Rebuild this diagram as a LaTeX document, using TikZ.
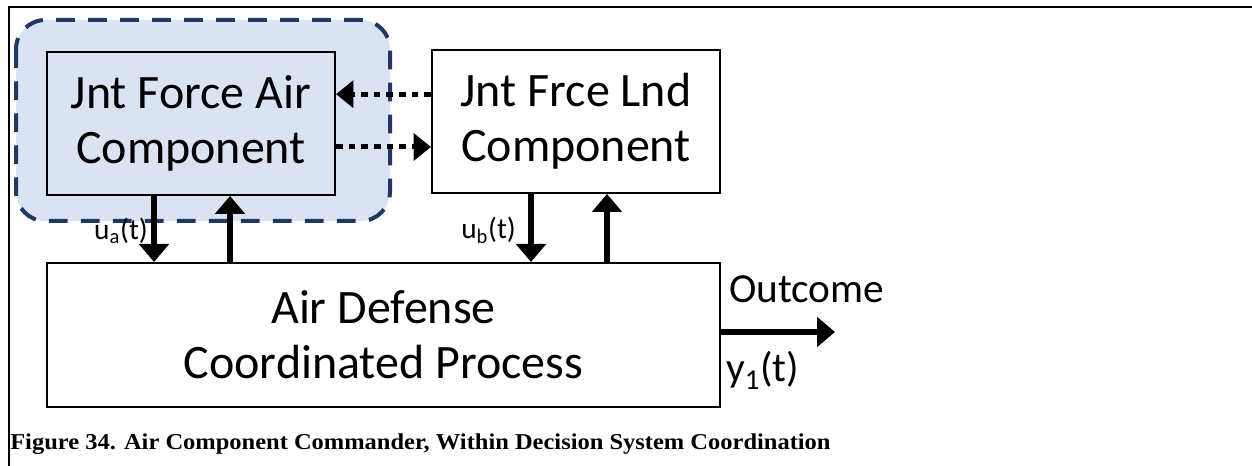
\documentclass[tikz,border=0pt]{standalone}
\usepackage{fontspec}
\setmainfont{Carlito}
\newfontfamily\capfont{Liberation Serif}
\usetikzlibrary{arrows.meta}
\definecolor{grpfill}{HTML}{DAE3F1}
\definecolor{grpline}{HTML}{1F3864}
\begin{document}
\begin{tikzpicture}[x=0.75pt,y=-0.75pt,
  box/.style={draw=black,line width=1.5pt,minimum width=216pt,minimum height=107.25pt,
    align=center,font=\fontsize{36}{41.4}\selectfont,inner sep=0pt},
  arr/.style={line width=4.5pt,-{Triangle[width=22pt,length=13.5pt]}},
  dotarr/.style={line width=3.75pt,dash pattern=on 5pt off 4.5pt,-{Triangle[width=20pt,length=13pt]}},
  lbl/.style={font=\fontsize{22}{24}\selectfont,inner sep=0pt},
  outlbl/.style={font=\fontsize{31}{34}\selectfont,inner sep=0pt}]
\useasboundingbox (0,0) rectangle (1252,466);
% frame
\draw[line width=1.5pt] (8.5,466) -- (8.5,7.5) -- (1252,7.5);
% group
\draw[grpline,fill=grpfill,line width=3pt,dash pattern=on 14pt off 10pt,rounded corners=22pt]
  (16,20) rectangle (390,221);
% boxes
\node[box] (air) at (191,123.5) {Jnt Force Air\\Component};
\node[box,fill=white] (land) at (576,121.5) {Jnt Frce Lnd\\Component};
\node[box,minimum width=504.75pt,minimum height=108pt,fill=white] (proc) at (383.5,335) {Air Defense\\Coordinated Process};
% vertical arrows
\coordinate (ad) at ([xshift=-27.75pt]air.south);
\coordinate (au) at ([xshift=29.25pt]air.south);
\coordinate (ld) at ([xshift=-33.75pt]land.south);
\coordinate (lu) at ([xshift=23.25pt]land.south);
\draw[arr] (ad) -- (ad |- proc.north);
\draw[arr] (au |- proc.north) -- (au);
\draw[arr] (ld) -- (ld |- proc.north);
\draw[arr] (lu |- proc.north) -- (lu);
% dotted arrows
\coordinate (d1) at ([yshift=22pt]air.east);
\coordinate (d2) at ([yshift=-17.6pt]air.east);
\draw[dotarr] (d1 -| land.west) -- (d1);
\draw[dotarr] (d2) -- (d2 -| land.west);
% outcome
\coordinate (os) at ([yshift=2.25pt]proc.east);
\coordinate (oe) at (835,332);
\draw[arr] (os) -- (oe |- os);
\node[outlbl,anchor=base west] (outc) at (729,303) {Outcome};
\node[outlbl,anchor=base west] (yout) at (726,382) {y\textsubscript{1}(t)};
% labels
\node[lbl,anchor=east] (ua) at (148,231) {u\textsubscript{a}(t)};
\node[lbl,anchor=east] (ub) at (516,230) {u\textsubscript{b}(t)};
% caption
\node[anchor=base west,inner sep=0pt,font=\capfont\bfseries\fontsize{17}{20}\selectfont] (cap) at (10,449)
  {\scalebox{1.08}[1]{Figure 34. Air Component Commander, Within Decision System Coordination}};
\end{tikzpicture}
\end{document}
